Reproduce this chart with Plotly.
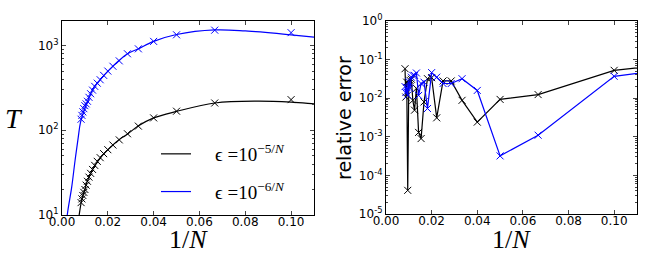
import plotly.graph_objects as go

# ---------------- data ----------------
N_vals = [120, 115, 110, 105, 100, 95, 90, 85, 80, 75, 70, 65, 60, 55, 50, 45, 40, 35, 30, 25, 20, 15, 10]
inv_N = [1.0 / n for n in N_vals]

# left panel: measured T (markers)
T_black = [14, 15.5, 17, 18.5, 20, 22.5, 25, 28, 31, 34.5, 38.5, 43, 47.5, 53, 59, 67, 77, 91, 112, 140, 168, 210, 230]
T_blue = [135, 150, 165, 180, 195, 205, 220, 245, 270, 298, 330, 360, 395, 445, 500, 570, 660, 800, 915, 1120, 1340, 1520, 1420]

# left panel: fitted curves
fit_x_black = [0.0065, 0.0075, 0.0086, 0.0100, 0.0107, 0.0136, 0.0172, 0.0209, 0.0245, 0.0288, 0.0332, 0.0400, 0.0500, 0.0667, 0.0850, 0.1000, 0.1100, 0.1150]
fit_T_black = [6, 10, 15, 20, 23.6, 35.5, 49, 62, 76, 91, 112, 140, 167, 210, 221, 215, 205, 200]
fit_x_blue = [0.0015, 0.0023, 0.0042, 0.0057, 0.0071, 0.0081, 0.0107, 0.0136, 0.0165, 0.0201, 0.0245, 0.0284, 0.0332, 0.0400, 0.0500, 0.0667, 0.0800, 0.1000, 0.1100, 0.1150]
fit_T_blue = [5, 10, 21, 44, 83, 125, 204, 309, 390, 500, 653, 797, 912, 1120, 1350, 1530, 1490, 1340, 1260, 1220]

# right panel: relative error (last point off-axis at 1/N = 0.2)
err_x = inv_N + [0.2]
err_black = [0.058, 0.0107, 0.026, 4.1e-5, 0.024, 0.029, 0.031, 0.0088, 0.0049, 0.018, 0.0013, 9e-4, 0.0080, 0.032, 0.034, 0.0031, 0.028, 0.028, 0.0088, 0.0024, 0.0093, 0.0124, 0.0527, 0.22]
err_blue = [0.02, 0.014, 0.019, 0.012, 0.027, 0.018, 0.035, 0.039, 0.039, 0.045, 0.0118, 0.024, 0.026, 0.0054, 0.046, 0.035, 0.024, 0.024, 0.032, 0.0159, 3.2e-4, 0.0011, 0.0369, 0.216]

x_ticks = [0.0, 0.02, 0.04, 0.06, 0.08, 0.10]
left_y_ticks = [10, 100, 1000]
left_y_text = ["10<sup>1</sup>", "10<sup>2</sup>", "10<sup>3</sup>"]
right_y_ticks = [1e-5, 1e-4, 1e-3, 1e-2, 1e-1, 1]
right_y_text = ["10<sup>-5</sup>", "10<sup>-4</sup>", "10<sup>-3</sup>", "10<sup>-2</sup>", "10<sup>-1</sup>", "10<sup>0</sup>"]

BLACK = "#000000"
BLUE = "#0000ff"

W, H = 654, 255
PAD = '<span style="color:rgba(0,0,0,0)">__</span>'

fig = go.Figure()

# left panel
fig.add_trace(go.Scatter(x=fit_x_black, y=fit_T_black, mode="lines", line=dict(color=BLACK, width=1.2, shape="spline"),
                         name=PAD + "ϵ =10<sup>−5/<i>N</i></sup>", legendgroup="a", xaxis="x", yaxis="y"))
fig.add_trace(go.Scatter(x=fit_x_blue, y=fit_T_blue, mode="lines", line=dict(color=BLUE, width=1.2, shape="spline"),
                         name=PAD + "ϵ =10<sup>−6/<i>N</i></sup>", legendgroup="b", xaxis="x", yaxis="y"))
fig.add_trace(go.Scatter(x=inv_N, y=T_black, mode="markers", showlegend=False,
                         marker=dict(symbol="x-thin", size=7, line=dict(color=BLACK, width=1)), xaxis="x", yaxis="y"))
fig.add_trace(go.Scatter(x=inv_N, y=T_blue, mode="markers", showlegend=False,
                         marker=dict(symbol="x-thin", size=7, line=dict(color=BLUE, width=1)), xaxis="x", yaxis="y"))

# right panel
fig.add_trace(go.Scatter(x=err_x, y=err_black, mode="lines+markers", showlegend=False,
                         line=dict(color=BLACK, width=1.2),
                         marker=dict(symbol="x-thin", size=7, line=dict(color=BLACK, width=1)), xaxis="x2", yaxis="y2"))
fig.add_trace(go.Scatter(x=err_x, y=err_blue, mode="lines+markers", showlegend=False,
                         line=dict(color=BLUE, width=1.2),
                         marker=dict(symbol="x-thin", size=7, line=dict(color=BLUE, width=1)), xaxis="x2", yaxis="y2"))

def minor_vals(lo, hi):
    return [k * 10.0 ** e for e in range(lo, hi) for k in range(2, 10)]

tickfont = dict(family="DejaVu Sans", size=12, color="black")
common_x = dict(range=[0, 0.11], tickvals=x_ticks, tickformat=".2f", ticks="inside", ticklen=4, tickwidth=1,
                showline=True, linecolor="black", linewidth=1.2, mirror="allticks", showgrid=False,
                zeroline=False, tickfont=tickfont, automargin=False, ticklabelstandoff=-5)
common_y = dict(type="log", ticks="inside", ticklen=4, tickwidth=1, showline=True, linecolor="black",
                linewidth=1.2, mirror="allticks", showgrid=False, zeroline=False, tickfont=tickfont, automargin=False)

ybot = 1 - 215 / H
ytop = 1 - 21 / H

fig.update_layout(
    width=W, height=H,
    margin=dict(l=0, r=0, t=0, b=0),
    paper_bgcolor="white", plot_bgcolor="white",
    xaxis=dict(domain=[62 / W, 314 / W], anchor="y", **common_x),
    yaxis=dict(domain=[ybot, ytop], anchor="x", range=[1, 3.29], tickmode="array", tickvals=left_y_ticks,
               ticktext=left_y_text,
               minor=dict(ticks="inside", ticklen=2, tickvals=minor_vals(1, 4), showgrid=False),
               **common_y),
    xaxis2=dict(domain=[386 / W, 637 / W], anchor="y2", **common_x),
    yaxis2=dict(domain=[1 - 214 / H, ytop], anchor="x2", range=[-5, 0], tickmode="array", tickvals=right_y_ticks,
                ticktext=right_y_text,
                minor=dict(ticks="inside", ticklen=2, tickvals=minor_vals(-5, 0), showgrid=False),
                **common_y),
    legend=dict(x=156 / W, y=1 - 135 / H, xanchor="left", yanchor="top", bgcolor="rgba(0,0,0,0)",
                font=dict(family="Liberation Serif", size=19, color="black"), tracegroupgap=10,
                itemwidth=30),
    annotations=[
        dict(text="<i>T</i>", x=14 / W, y=1 - 118 / H, xref="paper", yref="paper", showarrow=False,
             font=dict(family="Liberation Serif", size=28, color="black"), xanchor="center", yanchor="middle"),
        dict(text="1/<i>N</i>", x=188 / W, y=1 - 239 / H, xref="paper", yref="paper", showarrow=False,
             font=dict(family="Liberation Serif", size=26, color="black"), xanchor="center", yanchor="middle"),
        dict(text="1/<i>N</i>", x=511 / W, y=1 - 239 / H, xref="paper", yref="paper", showarrow=False,
             font=dict(family="Liberation Serif", size=26, color="black"), xanchor="center", yanchor="middle"),
        dict(text="relative error", x=344 / W, y=1 - 118 / H, xref="paper", yref="paper", showarrow=False,
             textangle=-90, font=dict(family="DejaVu Sans", size=19, color="black"),
             xanchor="center", yanchor="middle"),
    ],
)

fig.write_html("out.html", config={"displayModeBar": False},
               post_script="document.body.style.margin='0';document.body.style.overflow='hidden';")
